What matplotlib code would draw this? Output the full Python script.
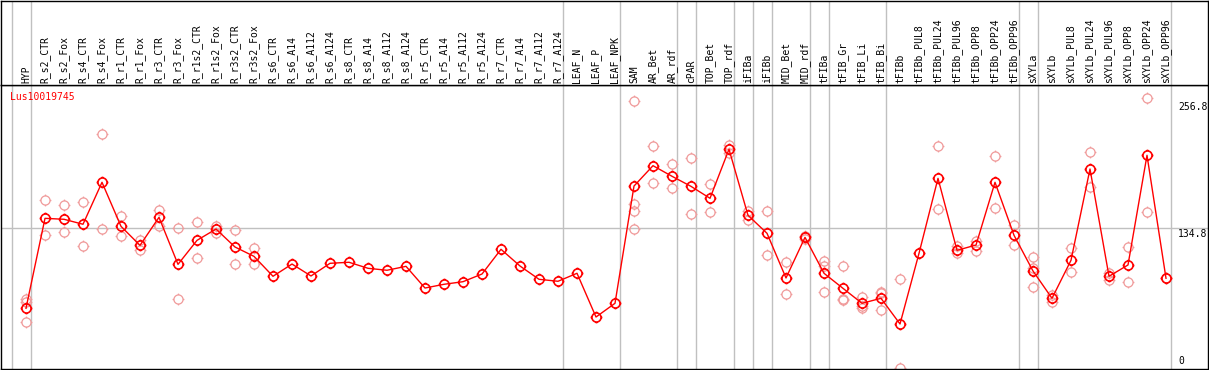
import numpy as np
import matplotlib
matplotlib.use("Agg")
import matplotlib.pyplot as plt
from matplotlib.path import Path

# sample names, one per column
labels = ["HYP", "R_s2_CTR", "R_s2_Fox", "R_s4_CTR", "R_s4_Fox", "R_r1_CTR", "R_r1_Fox",
          "R_r3_CTR", "R_r3_Fox", "R_r1s2_CTR", "R_r1s2_Fox", "R_r3s2_CTR", "R_r3s2_Fox",
          "R_s6_CTR", "R_s6_A14", "R_s6_A112", "R_s6_A124", "R_s8_CTR", "R_s8_A14",
          "R_s8_A112", "R_s8_A124", "R_r5_CTR", "R_r5_A14", "R_r5_A112", "R_r5_A124",
          "R_r7_CTR", "R_r7_A14", "R_r7_A112", "R_r7_A124", "LEAF_N", "LEAF_P", "LEAF_NPK",
          "SAM", "AR_Bet", "AR_rdf", "cPAR", "TOP_Bet", "TOP_rdf", "iFIBa", "iFIBb",
          "MID_Bet", "MID_rdf", "tFIBa", "tFIB_Gr", "tFIB_Li", "tFIB_Bi", "tFIBb",
          "tFIBb_PUL8", "tFIBb_PUL24", "tFIBb_PUL96", "tFIBb_OPP8", "tFIBb_OPP24", "tFIBb_OPP96",
          "sXYLa", "sXYLb", "sXYLb_PUL8", "sXYLb_PUL24", "sXYLb_PUL96", "sXYLb_OPP8",
          "sXYLb_OPP24", "sXYLb_OPP96"]

# mean expression (red line)
means = [57.5, 144.1, 143.2, 138.4, 178.8, 136.4, 118.1, 145.1, 99.8, 122.9, 133.8, 116.5, 107.5,
         88.3, 100.1, 88.6, 100.8, 101.8, 96.0, 94.1, 97.9, 77.0, 80.6, 83.1, 90.5,
         114.3, 98.2, 85.4, 83.5, 91.2, 49.1, 62.3,
         175.2, 194.8, 184.6, 174.9, 163.4, 210.6, 147.0, 129.7, 86.7, 125.8,
         91.2, 76.7, 62.3, 67.1, 42.4, 110.4, 182.6, 113.3, 118.4, 178.8, 127.8,
         93.4, 67.1, 103.7, 191.6, 88.3, 99.2, 204.8, 86.4]

# individual replicates (pale circles)
reps = [[66.4, 63.3, 44.6], [161.7, 127.8], [156.6, 130.7], [159.8, 117.5], [225.3, 133.8],
        [146.1, 126.8], [123.2, 113.3], [152.1, 136.7], [134.5, 66.1], [140.3, 105.6],
        [136.7, 130.3], [132.9, 99.8], [115.2, 99.8],
        [], [], [], [], [], [], [], [], [], [], [], [], [], [], [], [], [], [], [],
        [256.8, 157.6, 151.2, 133.5], [213.7, 177.8], [196.1, 173.0], [201.9, 148.0],
        [176.9, 149.9], [214.7, 207.3], [151.2, 142.5], [151.2, 108.8], [101.8, 71.2],
        [127.5, 124.0], [103.0, 98.5, 73.2], [98.2, 66.4, 65.5], [68.1, 58.1, 59.7],
        [73.2, 71.9, 55.8], [85.4, 0.0], [110.4], [213.7, 152.8], [117.7, 110.4],
        [122.3, 112.9], [203.8, 153.8], [137.7, 118.4],
        [106.6, 96.6, 77.7], [70.3, 63.8], [115.2, 92.1], [207.7, 174.6], [91.2, 84.7],
        [116.2, 82.8], [259.7, 149.9], [87.0]]

# group separators sit just right of these columns
seps = [-1, 0, 28, 31, 34, 35, 37, 38, 39, 41, 42, 45, 52, 53, 60]

gene = "Lus10019745"
ymax = 256.8
ymid = 134.8

W, H = 1209, 370
fig = plt.figure(figsize=(W / 100, H / 100), dpi=100)
plt.rcParams['font.family'] = ['DejaVu Sans Mono']

# circle (polygon) with four little ticks outside it
th = np.linspace(0, 2 * np.pi, 33)
circ = Path(np.column_stack([np.cos(th), np.sin(th)]), closed=True)
t = 1.3
tk = [Path([(0, 1), (0, t)]), Path([(0, -1), (0, -t)]),
      Path([(1, 0), (t, 0)]), Path([(-1, 0), (-t, 0)])]
mk = Path.make_compound_path(circ, *tk)

col0, step = 26, 19
xl = ((1 - col0) / step, (1208 - col0) / step)
ppu = (368 - 228) / ymid

# plot panel
ax = fig.add_axes([1 / W, 1 / H, 1207 / W, 284 / H])
ax.set_xlim(*xl)
ax.set_ylim((368 - 369) / ppu, (368 - 85) / ppu)
ax.set_xticks([])
ax.set_yticks([])
for s in ax.spines.values():
    s.set_linewidth(1.0)
    s.set_color("black")

x = np.arange(len(labels))
ax.axhline(ymid, color="#c0c0c0", lw=1.0, zorder=0)
for s in seps:
    ax.axvline(s + 0.24, color="#c0c0c0", lw=1.0, zorder=0)

for i, r in enumerate(reps):
    if r:
        ax.plot([i] * len(r), r, ls="none", marker=mk, ms=8.5, mfc="none",
                mec="#f09a9a", mew=0.9, zorder=2, clip_on=False)

ax.plot(x, means, color="red", lw=1.0, zorder=3)
ax.plot(x, means, ls="none", marker=mk, ms=8.5, mfc="none", mec="red", mew=1.2, zorder=4)

ax.text((10 - col0) / step, (368 - 97) / ppu, gene, color="red", fontsize=7,
        va="center", ha="left")
xr = (1178 - col0) / step
ax.text(xr, ymax - 1, "256.8", fontsize=7, va="top", ha="left")
ax.text(xr, ymid - 1, "134.8", fontsize=7, va="top", ha="left")
ax.text(xr, 1.5, "0", fontsize=7, va="bottom", ha="left")

# header with rotated sample names
hax = fig.add_axes([1 / W, 285 / H, 1207 / W, 84.5 / H])
hax.set_xlim(*xl)
hax.set_ylim(0, 85)
hax.set_xticks([])
hax.set_yticks([])
for s in hax.spines.values():
    s.set_linewidth(1.0)
    s.set_color("black")
for s in seps:
    hax.axvline(s + 0.24, color="#c0c0c0", lw=1.0, zorder=0)
for i, lab in enumerate(labels):
    hax.text(i, 2, lab, rotation=90, fontsize=7, ha="center", va="bottom")

fig.savefig("out.png", dpi=100)
